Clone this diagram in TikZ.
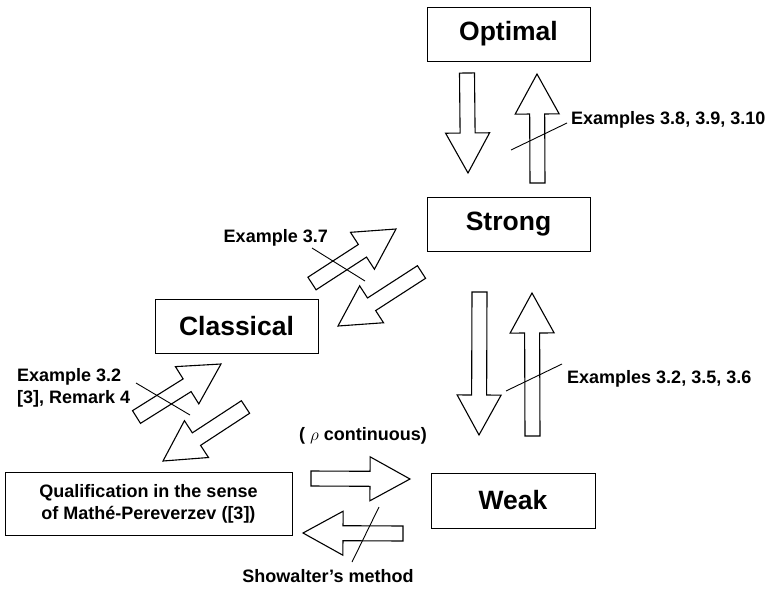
\documentclass[tikz,border=0pt]{standalone}
\usepackage{fontspec}
\setmainfont{Liberation Sans}
\usetikzlibrary{calc}

% hollow block arrow from tail #1 to tip #2
\newcommand\fatarrow[2]{%
  \coordinate (hb) at ($(#2)!40pt!(#1)$);
  \draw[fat] ($(#1)!7.5pt!90:(#2)$) -- ($(hb)!7.5pt!90:(#2)$)
    -- ($(hb)!22pt!90:(#2)$) -- (#2) -- ($(hb)!22pt!-90:(#2)$)
    -- ($(hb)!7.5pt!-90:(#2)$) -- ($(#1)!7.5pt!-90:(#2)$) -- cycle;}

\begin{document}
\begin{tikzpicture}[x=1pt, y=-1pt,
  box/.style={draw, line width=1pt, minimum width=163pt, minimum height=54pt,
              inner sep=0pt, font=\fontsize{26.5}{30}\selectfont\bfseries},
  qbox/.style={draw, line width=1pt, minimum width=287pt, minimum height=63pt,
               align=center, inner sep=0pt, font=\fontsize{18}{22}\selectfont\bfseries},
  fat/.style={line width=1.1pt, line join=miter, fill=white},
  slash/.style={line width=0.9pt},
  lbl/.style={inner sep=1pt, font=\fontsize{18}{22}\selectfont\bfseries}
]
\useasboundingbox (0,0) rectangle (772,590);

% ---------------- boxes ----------------
\node[box] (opt) at (508.5,34) {Optimal};
\node[box] (strong) at (508.5,224) {Strong};
\node[box] (class) at (236.5,326.5) {Classical};
\node[box, minimum width=164pt, minimum height=55pt] (weak) at (513,500.5) {Weak};
\node[qbox] (qual) at (148.5,503.5) {Qualification in the sense\\of Mathé-Pereverzev ([3])};

% ---------------- arrow ends ----------------
\coordinate (od0) at (467,73);    \coordinate (od1) at (468,173);
\coordinate (ou0) at (537.5,183); \coordinate (ou1) at (537,74);
\coordinate (sd0) at (479.5,292); \coordinate (sd1) at (479,435);
\coordinate (su0) at (532.5,436); \coordinate (su1) at (532,293);
\coordinate (cu0) at (312,283.5); \coordinate (cu1) at (396,229);
\coordinate (cd0) at (421.5,272); \coordinate (cd1) at (338,326);
\coordinate (qu0) at (136.5,417); \coordinate (qu1) at (221,364);
\coordinate (qd0) at (245.5,407); \coordinate (qd1) at (163,461);
\coordinate (wr0) at (311,478.5); \coordinate (wr1) at (410,479);
\coordinate (wl0) at (403,533.5); \coordinate (wl1) at (303,533);

\fatarrow{od0}{od1}
\fatarrow{ou0}{ou1}
\fatarrow{sd0}{sd1}
\fatarrow{su0}{su1}
\fatarrow{cu0}{cu1}
\fatarrow{cd0}{cd1}
\fatarrow{qu0}{qu1}
\fatarrow{qd0}{qd1}
\fatarrow{wr0}{wr1}
\fatarrow{wl0}{wl1}

% ---------------- labels ----------------
\node[lbl, anchor=west] (ex38) at (570,120) {Examples 3.8, 3.9, 3.10};
\node[lbl, anchor=west] (ex35) at (566,379) {Examples 3.2, 3.5, 3.6};
\node[lbl, anchor=east] (ex37) at (329,238) {Example 3.7};
\node[lbl, anchor=west, align=left] (ex32) at (16,388) {Example 3.2\\{[3]}, Remark 4};
\node[lbl] (rho) at (363,436) {( $\rho$ continuous)};
\node[lbl] (show) at (328,576) {Showalter’s method};

\draw[slash] (567,123) -- (511,150);
\draw[slash] (562,364) -- (506,391);
\draw[slash] (312,248) -- (365,281);
\draw[slash] (136,383) -- (190,415);
\draw[slash] (379,507) -- (352,562);
\end{tikzpicture}
\end{document}
